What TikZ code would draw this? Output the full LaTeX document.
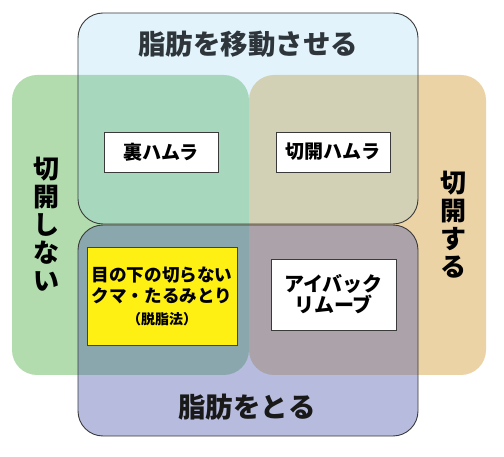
\documentclass[tikz,border=0pt]{standalone}
\usepackage{fontspec}
\newfontfamily\jpfont{Noto Sans CJK JP}
\definecolor{mygreencolor}{HTML}{B3DCAE}
\definecolor{myorangecolor}{HTML}{EBD3A6}
\definecolor{mymovecolor}{HTML}{82CCEF}
\definecolor{mytakecolor}{HTML}{5360B0}
\definecolor{myyellowcolor}{HTML}{FFF014}
\definecolor{myedgecolor}{HTML}{3A3A3A}
\definecolor{mytitlecolor}{HTML}{2E363C}
\tikzset{
  sidebox/.style={rectangle, rounded corners=25pt, inner sep=0pt, minimum width=237pt, minimum height=300pt},
  fatbox/.style={rectangle, rounded corners=25pt, draw=myedgecolor, line width=0.9pt, inner sep=0pt, minimum width=340pt, minimum height=211pt},
  methodbox/.style={rectangle, draw=myedgecolor, line width=0.9pt, fill=white, inner sep=0pt, align=center},
  bigtext/.style={inner sep=0pt, align=center, font=\jpfont\bfseries\fontsize{27.5pt}{28pt}\selectfont}
}

\begin{document}
\begin{tikzpicture}[x=1pt, y=-1pt]%
\useasboundingbox (0, 0) rectangle (504, 457);%
\node[sidebox, fill=mygreencolor] (noinc) at (130.5, 225) {};%
\node[sidebox, fill=myorangecolor] (inc) at (367.5, 225) {};%
\node[fatbox, fill=mymovecolor, fill opacity=0.23] (move) at (248, 118.5) {};%
\node[fatbox, fill=mytakecolor, fill opacity=0.42] (take) at (248, 330.5) {};%
\node[bigtext, text=mytitlecolor] (movelabel) at (248, 44) {脂肪を移動させる};%
\node[bigtext, text=black!90] (takelabel) at (247, 407) {脂肪をとる};%
\node[bigtext, font=\jpfont\bfseries\fontsize{26pt}{28pt}\selectfont] (noinclabel) at (47, 224) {切\\開\\し\\な\\い};%
\node[bigtext, font=\jpfont\bfseries\fontsize{26pt}{28pt}\selectfont] (inclabel) at (453, 225) {切\\開\\す\\る};%
\node[methodbox, font=\jpfont\bfseries\fontsize{19pt}{19pt}\selectfont, minimum width=114pt, minimum height=40pt] (urahamura) at (161, 152) {裏ハムラ};%
\node[methodbox, font=\jpfont\bfseries\fontsize{19pt}{19pt}\selectfont, minimum width=114pt, minimum height=40pt] (sekkaihamura) at (333, 152) {切開ハムラ};%
\node[methodbox, font=\jpfont\bfseries\fontsize{17.6pt}{21.5pt}\selectfont, fill=myyellowcolor, draw=black!70!myyellowcolor, minimum width=150pt, minimum height=98pt] (datsushi) at (162, 296) {目の下の切らない\\クマ・たるみとり\\{\fontsize{14pt}{14pt}\selectfont （脱脂法）}};%
\node[methodbox, font=\jpfont\bfseries\fontsize{20pt}{21pt}\selectfont, minimum width=125pt, minimum height=71pt] (eyebag) at (333.5, 294.5) {アイバック\\リムーブ};%
\end{tikzpicture}
\end{document}
